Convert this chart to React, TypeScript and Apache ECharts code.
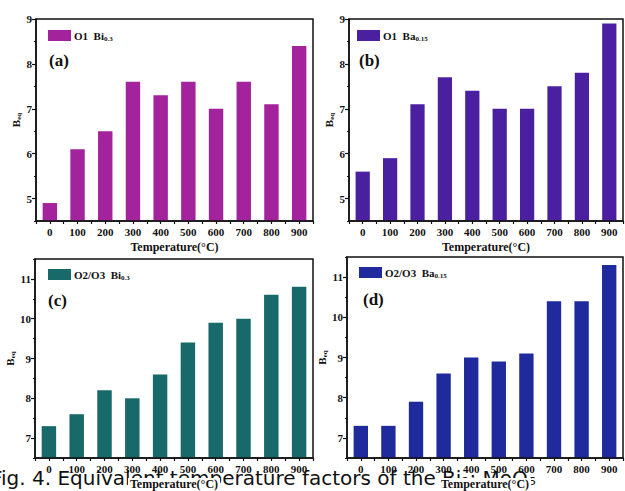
import React, { useEffect, useRef } from "react";
import * as echarts from "echarts";

const categories = ["0", "100", "200", "300", "400", "500", "600", "700", "800", "900"];
const seriesA = [4.9, 6.1, 6.5, 7.6, 7.3, 7.6, 7.0, 7.6, 7.1, 8.4];
const seriesB = [5.6, 5.9, 7.1, 7.7, 7.4, 7.0, 7.0, 7.5, 7.8, 8.9];
const seriesC = [7.3, 7.6, 8.2, 8.0, 8.6, 9.4, 9.9, 10.0, 10.6, 10.8];
const seriesD = [7.3, 7.3, 7.9, 8.6, 9.0, 8.9, 9.1, 10.4, 10.4, 11.3];
const ticksTop = [5, 6, 7, 8, 9];
const ticksBottom = [7, 8, 9, 10, 11];
const xTitle = "Temperature(°C)";
const caption = "Fig. 4. Equivalent temperature factors of the Bi₂: MoO₆";

const FONT = "Liberation Serif";

export default function App() {
  const ref = useRef<HTMLDivElement>(null);
  useEffect(() => {
    if (!ref.current) return;
    const chart = echarts.init(ref.current, null, { renderer: "svg" });

    const panels = [
      { grid: { left: 36, top: 19, width: 277, height: 202 }, data: seriesA, color: "#A3239D", min: 4.5, max: 9, ticks: ticksTop, legend: ["O1", "Bi", "0.3"], label: "(a)", lpos: [48, 31], tpos: [49, 62] },
      { grid: { left: 349, top: 19, width: 274, height: 202 }, data: seriesB, color: "#4B20A0", min: 4.5, max: 9, ticks: ticksTop, legend: ["O1", "Ba", "0.15"], label: "(b)", lpos: [357, 31], tpos: [359, 62] },
      { grid: { left: 35, top: 259, width: 278, height: 202 }, data: seriesC, color: "#17696A", min: 6.5, max: 11.5, ticks: ticksBottom, legend: ["O2/O3", "Bi", "0.3"], label: "(c)", lpos: [48, 270], tpos: [48, 302] },
      { grid: { left: 347, top: 257, width: 276, height: 204 }, data: seriesD, color: "#1F2A9C", min: 6.5, max: 11.5, ticks: ticksBottom, legend: ["O2/O3", "Ba", "0.15"], label: "(d)", lpos: [359, 268], tpos: [363, 301] },
    ];

    const grids: any[] = [];
    const xAxes: any[] = [];
    const yAxes: any[] = [];
    const series: any[] = [];
    const legends: any[] = [];
    const graphics: any[] = [
      {
        type: "text",
        left: -9,
        top: 468,
        z: 0,
        style: { text: caption, font: "20px 'DejaVu Sans'", fill: "#111" },
      },
    ];

    panels.forEach((p, i) => {
      grids.push({ ...p.grid, show: true, borderColor: "#111", borderWidth: 1.5, backgroundColor: "transparent", z: 1 });
      xAxes.push({
        type: "category",
        gridIndex: i,
        data: categories,
        position: "bottom",
        axisLine: { lineStyle: { color: "#111", width: 1.5 } },
        axisTick: { show: true, alignWithLabel: false, length: 3, inside: false, lineStyle: { color: "#111", width: 1.2 } },
        axisLabel: { fontFamily: FONT, fontWeight: "bold", fontSize: 11, color: "#111", margin: 5, interval: 0 },
        name: xTitle,
        nameLocation: "middle",
        nameGap: 20,
        nameTextStyle: { fontFamily: FONT, fontWeight: "bold", fontSize: 12, color: "#111", backgroundColor: "#fff", padding: [0, 2, 0, 2] },
        z: 5,
      });
      xAxes.push({
        type: "category",
        gridIndex: i,
        data: categories,
        position: "bottom",
        axisLine: { show: false },
        axisTick: { show: true, alignWithLabel: true, length: 3, lineStyle: { color: "#111", width: 1.2 } },
        axisLabel: { show: false },
      });
      yAxes.push({
        type: "value",
        gridIndex: i,
        min: p.min,
        max: p.max,
        position: "left",
        splitLine: { show: false },
        axisLine: { show: true, lineStyle: { color: "#111", width: 1.5 } },
        axisTick: { show: true, customValues: p.ticks, length: 4, lineStyle: { color: "#111", width: 1.2 } },
        axisLabel: { customValues: p.ticks, fontFamily: FONT, fontWeight: "bold", fontSize: 11, color: "#111", margin: 4 },
        name: "{b|B}{s|eq}",
        nameLocation: "middle",
        nameGap: 14,
        nameTextStyle: {
          rich: {
            b: { fontFamily: FONT, fontWeight: "bold", fontSize: 11, color: "#111" },
            s: { fontFamily: FONT, fontWeight: "bold", fontSize: 7, color: "#111", padding: [5, 0, 0, 0] },
          },
        },
      });
      yAxes.push({
        type: "value",
        gridIndex: i,
        min: p.min,
        max: p.max,
        interval: 0.5,
        position: "left",
        splitLine: { show: false },
        axisLine: { show: false },
        axisTick: { show: true, length: 2, lineStyle: { color: "#111", width: 1.2 } },
        axisLabel: { show: false },
      });
      const name = `s${i}`;
      series.push({
        type: "bar",
        name,
        xAxisIndex: i * 2,
        yAxisIndex: i * 2,
        data: p.data,
        barWidth: "52%",
        itemStyle: { color: p.color },
        z: 2,
      });
      legends.push({
        data: [name],
        left: p.lpos[0],
        top: p.lpos[1] - 1,
        padding: 0,
        itemWidth: 23,
        itemHeight: 11,
        itemGap: 0,
        icon: "rect",
        selectedMode: false,
        formatter: () => `{n|${p.legend[0]}  ${p.legend[1]}}{s|${p.legend[2]}}`,
        textStyle: {
          padding: [0, 0, 0, -2],
          rich: {
            n: { fontFamily: FONT, fontWeight: "bold", fontSize: 11, color: "#111" },
            s: { fontFamily: FONT, fontWeight: "bold", fontSize: 7, color: "#111", padding: [6, 0, 0, 0] },
          },
        },
      });
      graphics.push({
        type: "text",
        left: p.tpos[0],
        top: p.tpos[1] - 10,
        z: 10,
        style: { text: p.label, font: `bold 17px '${FONT}'`, fill: "#111" },
      });
    });

    chart.setOption({
      animation: false,
      backgroundColor: "#fff",
      grid: grids,
      xAxis: xAxes,
      yAxis: yAxes,
      series,
      legend: legends,
      graphic: graphics,
    });
    return () => chart.dispose();
  }, []);
  return <div ref={ref} style={{ position: "absolute", left: 0, top: 0, width: 625, height: 491 }} />;
}
